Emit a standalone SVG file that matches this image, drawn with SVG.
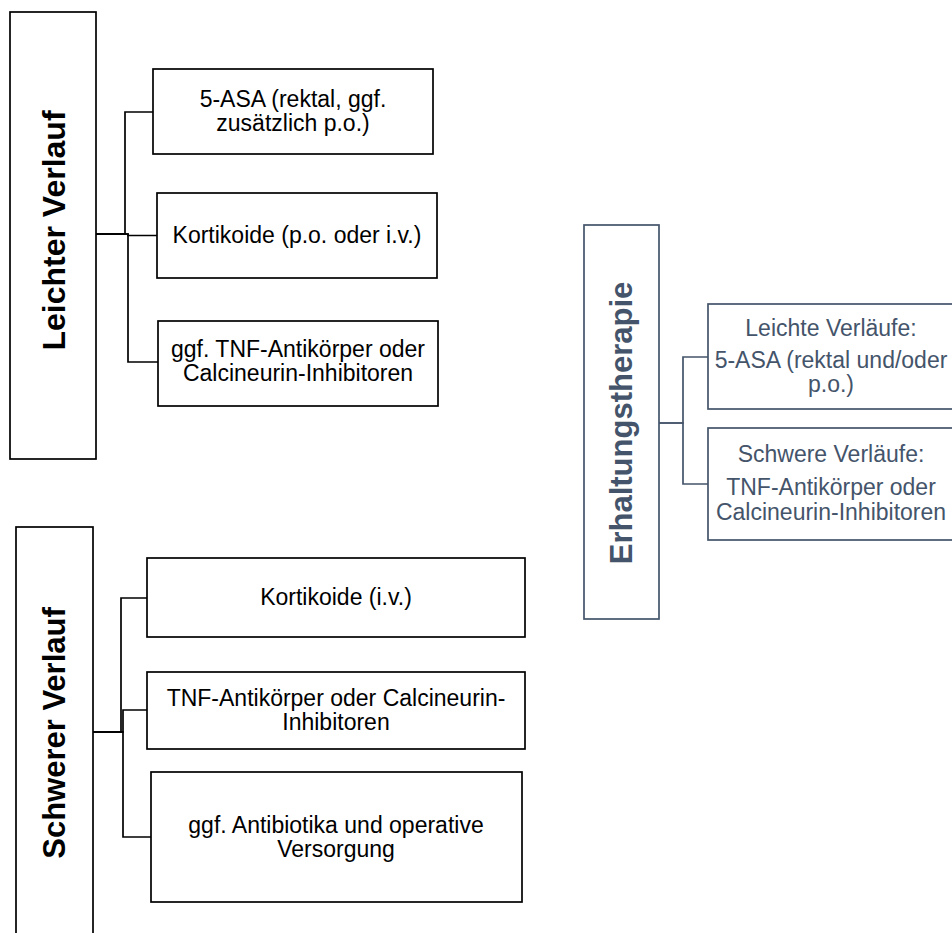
<svg xmlns="http://www.w3.org/2000/svg" width="952" height="933" viewBox="0 0 952 933">
<style>
.bx{fill:#fff;stroke:#000;stroke-width:1.7}
.bx2{fill:#fff;stroke:#44546A;stroke-width:1.7}
.cn{fill:none;stroke:#000;stroke-width:1.7}
.cn2{fill:none;stroke:#44546A;stroke-width:1.7}
.t{font-family:"Liberation Sans",Arial,sans-serif;font-size:23px;fill:#000;text-anchor:middle}
.t2{font-family:"Liberation Sans",Arial,sans-serif;font-size:23px;fill:#44546A;text-anchor:middle}
.h{font-family:"Liberation Sans",Arial,sans-serif;font-weight:bold;fill:#000;text-anchor:middle}
.h2{font-family:"Liberation Sans",Arial,sans-serif;font-size:31px;font-weight:bold;fill:#44546A;text-anchor:middle}
</style>
<rect width="952" height="933" fill="#fff"/>
<g id="connectors">
<path class="cn" d="M96,234 H125 V112 H153"/>
<path class="cn" d="M96,234 H128 V235.5 H157"/>
<path class="cn" d="M96,234 H128 V362 H158"/>
<path class="cn" d="M93,732 H121 V598 H147"/>
<path class="cn" d="M93,732 H123 V710 H147"/>
<path class="cn" d="M93,732 H123 V837 H151"/>
<path class="cn2" d="M659,423 H683 V357 H708"/>
<path class="cn2" d="M659,423 H683 V484 H708"/>
</g>
<g id="leichter">
<rect class="bx" x="10" y="12" width="86" height="447"/>
<text class="h" font-size="32" transform="translate(53,230.5) rotate(-90)" y="11.5">Leichter Verlauf</text>
</g>
<g id="a1">
<rect class="bx" x="153" y="69" width="280" height="85"/>
<text class="t" x="293" y="107">5-ASA (rektal, ggf.</text>
<text class="t" x="293" y="131">zusätzlich p.o.)</text>
</g>
<g id="a2">
<rect class="bx" x="157" y="193" width="280" height="85"/>
<text class="t" x="297" y="243">Kortikoide (p.o. oder i.v.)</text>
</g>
<g id="a3">
<rect class="bx" x="158" y="321" width="280" height="85"/>
<text class="t" x="298" y="357">ggf. TNF-Antikörper oder</text>
<text class="t" x="298" y="381">Calcineurin-Inhibitoren</text>
</g>
<g id="schwerer">
<rect class="bx" x="16" y="527" width="77" height="420"/>
<text class="h" font-size="31" transform="translate(54,733) rotate(-90)" y="11">Schwerer Verlauf</text>
</g>
<g id="b1">
<rect class="bx" x="147" y="558" width="378" height="79"/>
<text class="t" x="336" y="605">Kortikoide (i.v.)</text>
</g>
<g id="b2">
<rect class="bx" x="147" y="672" width="378" height="77"/>
<text class="t" x="336" y="706">TNF-Antikörper oder Calcineurin-</text>
<text class="t" x="336" y="730">Inhibitoren</text>
</g>
<g id="b3">
<rect class="bx" x="151" y="772" width="371" height="130"/>
<text class="t" x="336" y="833">ggf. Antibiotika und operative</text>
<text class="t" x="336" y="857">Versorgung</text>
</g>
<g id="erhaltung">
<rect class="bx2" x="584" y="225" width="75" height="394"/>
<text class="h2" transform="translate(621,423) rotate(-90)" y="11">Erhaltungstherapie</text>
</g>
<g id="c1">
<rect class="bx2" x="708" y="304" width="260" height="105"/>
<text class="t2" x="831" y="336">Leichte Verläufe:</text>
<text class="t2" x="831" y="368">5-ASA (rektal und/oder</text>
<text class="t2" x="831" y="392">p.o.)</text>
</g>
<g id="c2">
<rect class="bx2" x="708" y="428" width="260" height="112"/>
<text class="t2" x="831" y="462">Schwere Verläufe:</text>
<text class="t2" x="831" y="495">TNF-Antikörper oder</text>
<text class="t2" x="831" y="520">Calcineurin-Inhibitoren</text>
</g>
</svg>
